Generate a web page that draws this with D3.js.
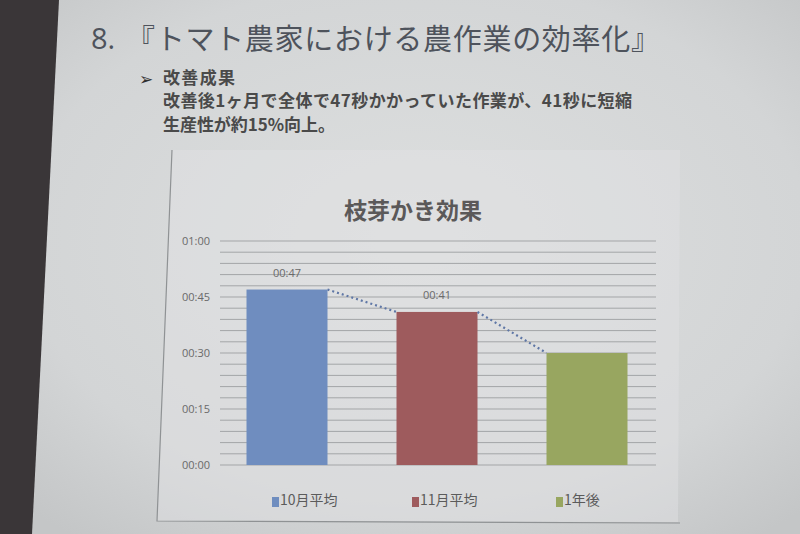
<!DOCTYPE html>
<html>
<head>
<meta charset="utf-8">
<script src="https://cdn.jsdelivr.net/npm/d3@7"></script>
<style>
  html, body { margin: 0; padding: 0; background: #c8cacb; }
  svg { display: block; }
</style>
</head>
<body>
<div id="chart"></div>
<script>
// data
var categories = ["10月平均", "11月平均", "1年後"],
    seconds = [47, 41, 30],
    showLabel = [true, true, false],
    barColors = ["#6f8dbf", "#9e5b5d", "#98a660"],
    yTicks = [0, 15, 30, 45, 60];

var slideNum = "8.",
    slideTitle = "『トマト農家における農作業の効率化』",
    bulletHead = "改善成果",
    bulletLines = ["改善後1ヶ月で全体で47秒かかっていた作業が、41秒に短縮", "生産性が約15%向上。"],
    chartTitle = "枝芽かき効果";

var width = 800, height = 534;
var jp = "'Noto Sans CJK JP', 'Noto Sans', sans-serif";

var svg = d3.select("#chart").append("svg")
  .attr("width", width)
  .attr("height", height);

// projected slide background
var defs = svg.append("defs");
var grad = defs.append("radialGradient").attr("id", "bg")
  .attr("cx", "0.52").attr("cy", "0.45").attr("r", "0.7");
grad.append("stop").attr("offset", "0%").attr("stop-color", "#dddfdf");
grad.append("stop").attr("offset", "70%").attr("stop-color", "#d3d5d6");
grad.append("stop").attr("offset", "100%").attr("stop-color", "#c4c6c7");

svg.append("rect").attr("width", width).attr("height", height).attr("fill", "url(#bg)");

// dark screen border on the left
svg.append("path")
  .attr("d", "M0,0 L59,0 L32,534 L0,534 Z")
  .attr("fill", "#3a3638");

// slide title + bullet text
svg.append("text")
  .attr("x", 91).attr("y", 49)
  .style("font-family", "'Open Sans', sans-serif").style("font-size", "29px")
  .attr("fill", "#4e535c")
  .text(slideNum);

svg.append("text")
  .attr("x", 126).attr("y", 50)
  .attr("textLength", 534).attr("lengthAdjust", "spacing")
  .style("font-family", jp).style("font-size", "29px")
  .attr("fill", "#4e535c")
  .text(slideTitle);

svg.append("text")
  .attr("x", 139).attr("y", 85)
  .style("font-family", "'DejaVu Sans', sans-serif").style("font-size", "17px")
  .attr("fill", "#2e2e2e")
  .text("➢");

svg.append("text")
  .attr("x", 163).attr("y", 84)
  .attr("textLength", 72).attr("lengthAdjust", "spacing")
  .style("font-family", jp).style("font-size", "17px").style("font-weight", "bold")
  .attr("fill", "#4a4a4a")
  .text(bulletHead);

var lineLen = [469, 172];
bulletLines.forEach(function(t, i) {
  svg.append("text")
    .attr("x", 163).attr("y", 107 + i * 24)
    .attr("textLength", lineLen[i]).attr("lengthAdjust", "spacing")
    .style("font-family", jp).style("font-size", "17px").style("font-weight", "bold")
    .attr("fill", "#4a4a4a")
    .text(t);
});

// chart frame (slightly lighter area)
svg.append("path")
  .attr("d", "M172,150 L680,150 L678,522 L157,521 Z")
  .attr("fill", "#e2e3e4").attr("opacity", 0.45);
svg.append("path")
  .attr("d", "M172,150 L157,521 L680,523")
  .attr("fill", "none").attr("stroke", "#8f9294").attr("stroke-width", 1.2);

svg.append("text")
  .attr("x", 413).attr("y", 219)
  .attr("text-anchor", "middle")
  .style("font-family", jp).style("font-size", "23px").style("font-weight", "bold")
  .attr("fill", "#5b5959")
  .text(chartTitle);

// scales
var y = d3.scaleLinear().domain([0, 60]).range([465, 241]);
var x = d3.scaleBand().domain(categories).range([212, 662]).paddingInner(0.46).paddingOuter(0.23);
var gridLeft = 220, gridRight = 656;

var fmt = function(s) {
  return d3.format("02")(Math.floor(s / 60)) + ":" + d3.format("02")(s % 60);
};

// gridlines every 3 seconds
svg.append("g").selectAll("line")
  .data(d3.range(0, 61, 3))
  .enter().append("line")
  .attr("x1", gridLeft).attr("x2", gridRight)
  .attr("y1", d => y(d)).attr("y2", d => y(d))
  .attr("stroke", "#a3a5a7").attr("stroke-width", 1);

// y axis labels
var yAxis = d3.axisLeft(y).tickValues(yTicks).tickFormat(fmt).tickSize(0).tickPadding(0);
var ga = svg.append("g").attr("transform", "translate(210,0)").call(yAxis);
ga.select(".domain").remove();
ga.selectAll("text")
  .style("font-family", "'Open Sans', sans-serif").style("font-size", "11px")
  .attr("fill", "#6a6a6a");

// bars
svg.append("g").selectAll("rect")
  .data(seconds)
  .enter().append("rect")
  .attr("x", (d, i) => x(categories[i]))
  .attr("y", d => y(d))
  .attr("width", x.bandwidth())
  .attr("height", d => y(0) - y(d))
  .attr("fill", (d, i) => barColors[i]);

// dotted series lines between bar tops
for (var i = 0; i < seconds.length - 1; i++) {
  svg.append("line")
    .attr("x1", x(categories[i]) + x.bandwidth())
    .attr("y1", y(seconds[i]))
    .attr("x2", x(categories[i + 1]))
    .attr("y2", y(seconds[i + 1]))
    .attr("stroke", "#5f77a6").attr("stroke-width", 2.2)
    .attr("stroke-dasharray", "2,3");
}

// data labels
svg.append("g").selectAll("text")
  .data(seconds.filter((d, i) => showLabel[i]))
  .enter().append("text")
  .attr("x", (d, i) => x(categories[i]) + x.bandwidth() / 2)
  .attr("y", d => y(d) - 13)
  .attr("text-anchor", "middle")
  .style("font-family", "'Open Sans', sans-serif").style("font-size", "11px")
  .attr("fill", "#6a6a6a")
  .text(d => fmt(d));

// legend
var legendX = [272, 412, 556];
var lg = svg.append("g").selectAll("g")
  .data(categories)
  .enter().append("g")
  .attr("transform", (d, i) => "translate(" + legendX[i] + ",497)");
lg.append("rect")
  .attr("width", 7).attr("height", 10)
  .attr("fill", (d, i) => barColors[i]);
lg.append("text")
  .attr("x", 8).attr("y", 8)
  .style("font-family", jp).style("font-size", "14px")
  .attr("fill", "#5b5b5b")
  .text(d => d);
</script>
</body>
</html>
